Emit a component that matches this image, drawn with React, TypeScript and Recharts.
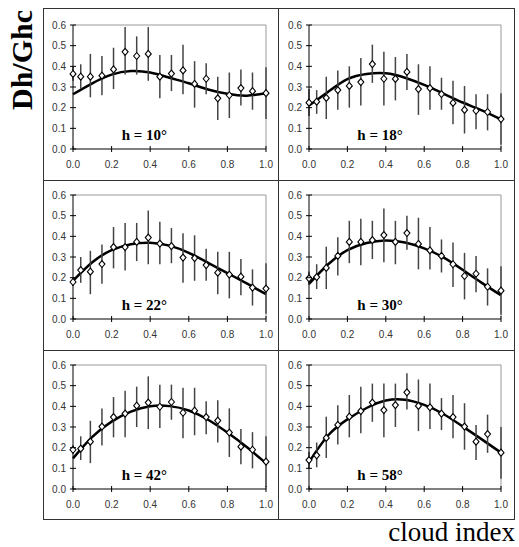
import { ComposedChart, XAxis, YAxis, Line, Scatter, ErrorBar, ReferenceLine } from 'recharts'

// cloud index bins (x position of each diamond)
const cloudIdx = [0, 0.04, 0.09, 0.15, 0.21, 0.27, 0.33, 0.39, 0.45, 0.51, 0.57, 0.63, 0.69, 0.75, 0.81, 0.87, 0.93, 1.0]
// x positions where the fitted curve is read
const fitX = [0, 0.1, 0.2, 0.3, 0.4, 0.5, 0.6, 0.7, 0.8, 0.9, 1.0]

const xTicks = [0, 0.2, 0.4, 0.6, 0.8, 1.0]
const yTicks = [0, 0.1, 0.2, 0.3, 0.4, 0.5, 0.6]

const mean10 = [0.363, 0.35, 0.35, 0.355, 0.385, 0.47, 0.45, 0.46, 0.35, 0.365, 0.38, 0.315, 0.34, 0.245, 0.26, 0.295, 0.28, 0.27]
const hi10 = [0.4, 0.41, 0.46, 0.45, 0.49, 0.59, 0.545, 0.59, 0.455, 0.455, 0.505, 0.425, 0.415, 0.35, 0.37, 0.385, 0.37, 0.395]
const lo10 = [0.33, 0.29, 0.25, 0.26, 0.29, 0.36, 0.36, 0.33, 0.245, 0.28, 0.265, 0.2, 0.265, 0.14, 0.15, 0.21, 0.19, 0.145]
const fit10 = [0.265, 0.318, 0.36, 0.377, 0.37, 0.345, 0.318, 0.288, 0.267, 0.258, 0.27]

const mean18 = [0.224, 0.229, 0.247, 0.285, 0.305, 0.324, 0.411, 0.34, 0.339, 0.373, 0.29, 0.295, 0.266, 0.223, 0.189, 0.185, 0.179, 0.145]
const hi18 = [0.29, 0.285, 0.35, 0.38, 0.4, 0.44, 0.505, 0.47, 0.445, 0.46, 0.41, 0.4, 0.345, 0.33, 0.305, 0.265, 0.265, 0.27]
const lo18 = [0.16, 0.17, 0.145, 0.19, 0.2, 0.21, 0.32, 0.21, 0.235, 0.285, 0.165, 0.19, 0.19, 0.12, 0.075, 0.095, 0.09, 0.02]
const fit18 = [0.21, 0.277, 0.338, 0.363, 0.366, 0.345, 0.31, 0.268, 0.225, 0.187, 0.143]

const mean22 = [0.179, 0.237, 0.229, 0.266, 0.348, 0.348, 0.373, 0.394, 0.365, 0.353, 0.297, 0.295, 0.261, 0.224, 0.215, 0.205, 0.152, 0.147]
const hi22 = [0.2, 0.3, 0.33, 0.36, 0.445, 0.465, 0.465, 0.525, 0.47, 0.44, 0.415, 0.405, 0.34, 0.325, 0.325, 0.29, 0.24, 0.27]
const lo22 = [0.16, 0.175, 0.12, 0.17, 0.245, 0.235, 0.28, 0.265, 0.265, 0.27, 0.175, 0.185, 0.185, 0.12, 0.1, 0.115, 0.065, 0.025]
const fit22 = [0.185, 0.275, 0.333, 0.362, 0.369, 0.355, 0.32, 0.272, 0.222, 0.172, 0.12]

const mean30 = [0.197, 0.203, 0.247, 0.305, 0.373, 0.373, 0.382, 0.406, 0.373, 0.416, 0.363, 0.332, 0.305, 0.265, 0.208, 0.219, 0.156, 0.137]
const hi30 = [0.23, 0.265, 0.35, 0.395, 0.475, 0.485, 0.475, 0.535, 0.475, 0.5, 0.49, 0.445, 0.385, 0.37, 0.32, 0.305, 0.245, 0.255]
const lo30 = [0.165, 0.145, 0.145, 0.21, 0.27, 0.26, 0.29, 0.275, 0.265, 0.335, 0.24, 0.24, 0.225, 0.155, 0.095, 0.13, 0.065, 0.02]
const fit30 = [0.17, 0.265, 0.333, 0.368, 0.38, 0.37, 0.342, 0.298, 0.238, 0.175, 0.115]

const mean42 = [0.19, 0.195, 0.229, 0.302, 0.348, 0.365, 0.403, 0.418, 0.398, 0.421, 0.369, 0.379, 0.348, 0.331, 0.273, 0.205, 0.19, 0.132]
const hi42 = [0.21, 0.255, 0.33, 0.39, 0.445, 0.475, 0.495, 0.545, 0.505, 0.505, 0.49, 0.49, 0.425, 0.43, 0.39, 0.29, 0.275, 0.255]
const lo42 = [0.17, 0.14, 0.125, 0.21, 0.25, 0.25, 0.3, 0.29, 0.295, 0.335, 0.245, 0.26, 0.265, 0.225, 0.155, 0.12, 0.1, 0.01]
const fit42 = [0.148, 0.252, 0.326, 0.374, 0.4, 0.401, 0.38, 0.335, 0.273, 0.203, 0.125]

const mean58 = [0.14, 0.163, 0.247, 0.31, 0.35, 0.377, 0.418, 0.382, 0.406, 0.468, 0.402, 0.395, 0.365, 0.348, 0.302, 0.229, 0.266, 0.176]
const hi58 = [0.18, 0.225, 0.35, 0.405, 0.455, 0.495, 0.51, 0.51, 0.51, 0.56, 0.53, 0.51, 0.44, 0.455, 0.415, 0.31, 0.36, 0.3]
const lo58 = [0.1, 0.105, 0.15, 0.215, 0.25, 0.27, 0.325, 0.25, 0.3, 0.385, 0.28, 0.29, 0.285, 0.245, 0.19, 0.14, 0.175, 0.05]
const fit58 = [0.13, 0.26, 0.337, 0.392, 0.428, 0.432, 0.407, 0.363, 0.303, 0.24, 0.176]

const cols = [
  { left: 43, width: 235, plotL: 30, plotR: 12 },
  { left: 278, width: 237, plotL: 31, plotR: 14 },
]
const rows = [
  { top: 8, height: 172, plotT: 17 },
  { top: 180, height: 170, plotT: 15 },
  { top: 350, height: 170, plotT: 15 },
]
const PLOT_H = 124

const panels = [
  { label: 'h = 10°', mean: mean10, hi: hi10, lo: lo10, fit: fit10, row: 0, col: 0 },
  { label: 'h = 18°', mean: mean18, hi: hi18, lo: lo18, fit: fit18, row: 0, col: 1 },
  { label: 'h = 22°', mean: mean22, hi: hi22, lo: lo22, fit: fit22, row: 1, col: 0 },
  { label: 'h = 30°', mean: mean30, hi: hi30, lo: lo30, fit: fit30, row: 1, col: 1 },
  { label: 'h = 42°', mean: mean42, hi: hi42, lo: lo42, fit: fit42, row: 2, col: 0 },
  { label: 'h = 58°', mean: mean58, hi: hi58, lo: lo58, fit: fit58, row: 2, col: 1 },
]

const tickFont = { fontFamily: 'Arial, "Liberation Sans", sans-serif', fontSize: 10, fill: '#333' }

const XTick = (props: any) => {
  const { x, y, payload } = props
  return (
    <g>
      <line x1={x} x2={x} y1={y - 3} y2={y + 3} stroke="#000" strokeWidth={1} />
      <text x={x} y={y + 19} textAnchor="middle" {...tickFont}>{Number(payload.value).toFixed(1)}</text>
    </g>
  )
}

const YTick = (props: any) => {
  const { x, y, payload } = props
  return (
    <g>
      <line x1={x - 3} x2={x + 3} y1={y} y2={y} stroke="#000" strokeWidth={1} />
      <text x={x - 7} y={y + 3.5} textAnchor="end" {...tickFont}>{Number(payload.value).toFixed(1)}</text>
    </g>
  )
}

const Diamond = (props: any) => {
  const { cx, cy } = props
  return (
    <polygon
      points={`${cx},${cy - 3.5} ${cx + 3},${cy} ${cx},${cy + 3.5} ${cx - 3},${cy}`}
      fill="#fff"
      stroke="#000"
      strokeWidth={1.1}
    />
  )
}

function Panel({ label, mean, hi, lo, fit, row, col }: any) {
  const c = cols[col]
  const r = rows[row]
  const pts = cloudIdx.map((x, i) => ({ x, y: mean[i], err: [mean[i] - lo[i], hi[i] - mean[i]] }))
  const curve = fitX.map((x, i) => ({ x, y: fit[i] }))
  const plotW = c.width - c.plotL - c.plotR
  return (
    <div style={{ position: 'absolute', left: c.left, top: r.top, width: c.width, height: r.height }}>
      <ComposedChart
        width={c.width}
        height={r.height}
        margin={{ top: r.plotT, right: c.plotR, left: 0, bottom: 0 }}
      >
        <XAxis
          type="number"
          dataKey="x"
          domain={[0, 1]}
          ticks={xTicks}
          interval={0}
          height={r.height - r.plotT - PLOT_H}
          stroke="#000"
          tickSize={0}
          tickMargin={0}
          tickLine={false}
          tick={<XTick />}
        />
        <YAxis
          type="number"
          dataKey="y"
          domain={[0, 0.6]}
          ticks={yTicks}
          interval={0}
          width={c.plotL}
          stroke="#000"
          tickSize={0}
          tickMargin={0}
          tickLine={false}
          tick={<YTick />}
        />
        <ReferenceLine y={0.6} stroke="#999" strokeWidth={1} />
        <ReferenceLine x={1} stroke="#999" strokeWidth={1} />
        <Line
          data={curve}
          dataKey="y"
          type="natural"
          stroke="#000"
          strokeWidth={2.5}
          dot={false}
          isAnimationActive={false}
        />
        <Scatter data={pts} dataKey="y" shape={<Diamond />} isAnimationActive={false}>
          <ErrorBar dataKey="err" direction="y" width={0} stroke="#444" strokeWidth={1.5} />
        </Scatter>
      </ComposedChart>
      <div
        style={{
          position: 'absolute',
          left: c.plotL + 0.37 * plotW,
          top: r.plotT + PLOT_H - 14,
          transform: 'translate(-50%, -50%)',
          fontFamily: '"Liberation Serif", "Times New Roman", serif',
          fontWeight: 'bold',
          fontSize: 15,
          whiteSpace: 'nowrap',
          color: '#000',
        }}
      >
        {label}
      </div>
    </div>
  )
}

export default function App() {
  return (
    <div style={{ position: 'absolute', left: 0, top: 0, width: 519, height: 547, background: '#fff' }}>
      <div style={{ position: 'absolute', left: 43, top: 8, width: 472, height: 512, border: '1px solid #333', boxSizing: 'border-box' }} />
      <div style={{ position: 'absolute', left: 278, top: 8, width: 1, height: 512, background: '#333' }} />
      <div style={{ position: 'absolute', left: 43, top: 180, width: 472, height: 1, background: '#333' }} />
      <div style={{ position: 'absolute', left: 43, top: 350, width: 472, height: 1, background: '#333' }} />
      {panels.map((p) => (
        <Panel key={p.label} {...p} />
      ))}
      <div
        style={{
          position: 'absolute',
          left: 22,
          top: 60,
          transform: 'translate(-50%, -50%) rotate(-90deg)',
          fontFamily: '"Liberation Serif", "Times New Roman", serif',
          fontWeight: 'bold',
          fontSize: 30,
          whiteSpace: 'nowrap',
          lineHeight: 1,
        }}
      >
        Dh/Ghc
      </div>
      <div
        style={{
          position: 'absolute',
          right: 4,
          top: 519,
          fontFamily: '"Liberation Serif", "Times New Roman", serif',
          fontSize: 27,
          whiteSpace: 'nowrap',
          lineHeight: 1,
        }}
      >
        cloud index
      </div>
    </div>
  )
}
